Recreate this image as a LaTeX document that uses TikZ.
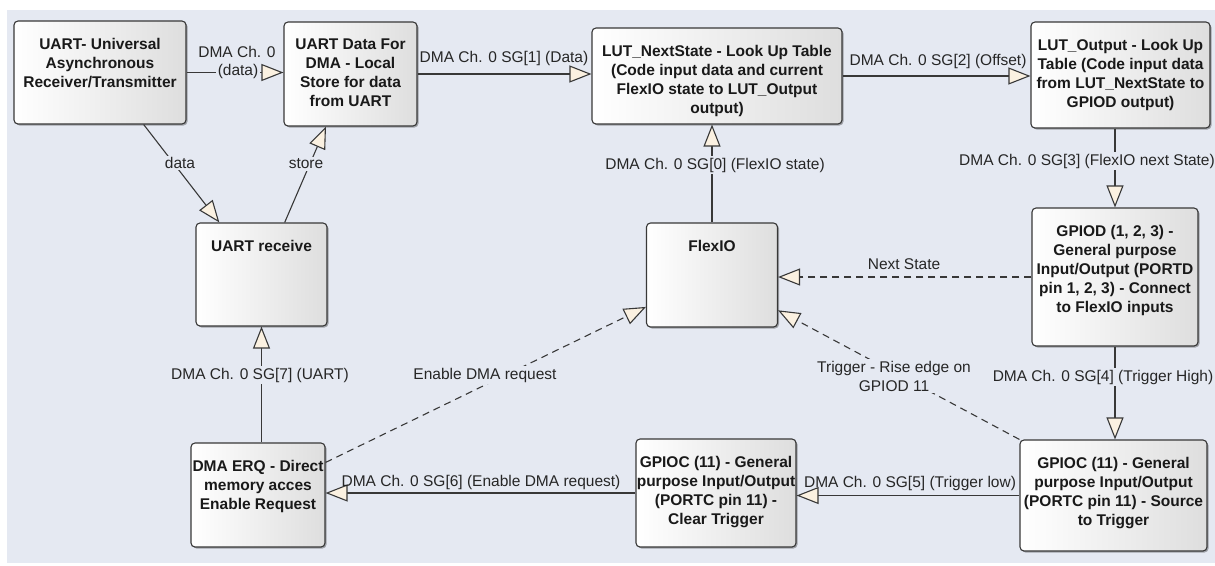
\documentclass[tikz,border=0pt]{standalone}
\usepackage{fontspec}
\setmainfont{Liberation Sans}
\usetikzlibrary{arrows.meta,shadows,calc}
\definecolor{canvas}{HTML}{E5E9F2}
\definecolor{tipfill}{HTML}{FBF1E1}
\definecolor{ink}{HTML}{383838}

\tikzset{
  block/.style={draw=ink, line width=1.1pt, rounded corners=4pt,
    left color=white, right color=black!13, inner sep=0pt,
    drop shadow={shadow xshift=1.5pt, shadow yshift=-1.5pt, opacity=0.3, fill=black}},
  blocktext/.style={font=\bfseries\fontsize{15.5}{19}\selectfont, align=center,
    inner sep=0pt, anchor=north, text=black!90},
  flow/.style={draw=ink, line width=1.1pt,
    -{Triangle[length=22pt,width=17pt,fill=tipfill]}},
  signal/.style={flow, dash pattern=on 7pt off 5pt},
  tag/.style={font=\fontsize{15.5}{19}\selectfont, fill=canvas, inner sep=1.5pt,
    align=center, text=black!85},
  plaintag/.style={tag, fill=none},
}

\begin{document}
\begin{tikzpicture}[x=1pt,y=-1pt]
% page and canvas
\fill[white] (0,0) rectangle (1215,565);
\fill[canvas] (7,10) rectangle (1215,563);
\useasboundingbox (0,0) rectangle (1215,565);

% blocks
\node[block, minimum width=172pt, minimum height=103pt] (uart)   at (100,72.5)   {};
\node[block, minimum width=133pt, minimum height=104pt] (udata)  at (350.5,74)   {};
\node[block, minimum width=250pt, minimum height=96pt]  (lutns)  at (717,76)     {};
\node[block, minimum width=179pt, minimum height=106pt] (lutout) at (1120.5,75)  {};
\node[block, minimum width=131pt, minimum height=103pt] (urecv)  at (261.5,274.5){};
\node[block, minimum width=131pt, minimum height=104pt] (flexio) at (712,275)    {};
\node[block, minimum width=166pt, minimum height=138pt] (gpiod)  at (1115,277)   {};
\node[block, minimum width=134pt, minimum height=104pt] (erq)    at (258,495)    {};
\node[block, minimum width=160pt, minimum height=108pt] (gclr)   at (716,493)    {};
\node[block, minimum width=187pt, minimum height=111pt] (gsrc)   at (1113.5,495.5){};

% block titles
\node[blocktext] (uart-t)   at ([yshift=-17.5pt]uart.north)   {UART- Universal\\Asynchronous\\Receiver/Transmitter};
\node[blocktext] (udata-t)  at ([yshift=-17.5pt]udata.north)  {UART Data For\\DMA - Local\\Store for data\\from UART};
\node[blocktext] (lutns-t)  at ([yshift=-17.5pt]lutns.north)  {LUT\_NextState - Look Up Table\\(Code input data and current\\FlexIO state to LUT\_Output\\output)};
\node[blocktext] (lutout-t) at ([yshift=-17.5pt]lutout.north) {LUT\_Output - Look Up\\Table (Code input data\\from LUT\_NextState to\\GPIOD output)};
\node[blocktext] (urecv-t)  at ([yshift=-17.5pt]urecv.north)  {UART receive};
\node[blocktext] (flexio-t) at ([yshift=-17.5pt]flexio.north) {FlexIO};
\node[blocktext] (gpiod-t)  at ([yshift=-17.5pt]gpiod.north)  {GPIOD (1, 2, 3) -\\General purpose\\Input/Output (PORTD\\pin 1, 2, 3) - Connect\\to FlexIO inputs};
\node[blocktext] (erq-t)    at ([yshift=-17.5pt]erq.north)    {DMA ERQ - Direct\\memory acces\\Enable Request};
\node[blocktext] (gclr-t)   at ([yshift=-17.5pt]gclr.north)   {GPIOC (11) - General\\purpose Input/Output\\(PORTC pin 11) -\\Clear Trigger};
\node[blocktext] (gsrc-t)   at ([yshift=-17.5pt]gsrc.north)   {GPIOC (11) - General\\purpose Input/Output\\(PORTC pin 11) - Source\\to Trigger};

% DMA chain
\draw[flow] (uart.east) -- (uart.east -| udata.west);
\node[plaintag] (l-data1) at (237,52) {DMA Ch. 0};
\node[tag] (l-data2) at (238,71.5) {(data)};

\draw[flow] (udata.east) -- (udata.east -| lutns.west);
\node[plaintag] (l-sg1) at (504,58) {DMA Ch. 0 SG[1] (Data)};

\draw[flow] (lutns.east) -- (lutns.east -| lutout.west);
\node[plaintag] (l-sg2) at (938,61) {DMA Ch. 0 SG[2] (Offset)};

\draw[flow] (gpiod.north |- lutout.south) -- (gpiod.north);
\node[tag] (l-sg3) at (1087,161) {DMA Ch. 0 SG[3] (FlexIO next State)};

\draw[flow] (gpiod.south) -- (gpiod.south |- gsrc.north);
\node[tag] (l-sg4) at (1103,377) {DMA Ch. 0 SG[4] (Trigger High)};

\draw[flow] (gsrc.west) -- (gsrc.west -| gclr.east);
\node[plaintag] (l-sg5) at (910,483) {DMA Ch. 0 SG[5] (Trigger low)};

\draw[flow] (gclr.west) -- (gclr.west -| erq.east);
\node[plaintag] (l-sg6) at (481,482) {DMA Ch. 0 SG[6] (Enable DMA request)};

\draw[flow] (urecv.south |- erq.north) -- (urecv.south);
\node[tag] (l-sg7) at (260,375) {DMA Ch. 0 SG[7] (UART)};

\draw[flow] (flexio.north) -- (flexio.north |- lutns.south);
\node[tag] (l-sg0) at (715,165) {DMA Ch. 0 SG[0] (FlexIO state)};

% UART side
\draw[flow] (uart.-50.4) -- (urecv.129.5);
\node[tag] (l-rx) at (180,163) {data};
\draw[flow] (urecv.66.4) -- (udata.245.7);
\node[tag] (l-store) at (306,164) {store};

% FlexIO signals
\draw[signal] (gpiod.west) -- (gpiod.west -| flexio.east);
\node[plaintag] (l-next) at (904,264) {Next State};
\draw[signal] (gsrc.north west) -- (flexio);
\node[tag] (l-trig) at (894,376) {Trigger - Rise edge on\\GPIOD 11};
\draw[signal] (erq) -- (flexio);
\node[tag] (l-erq) at (485,375) {Enable DMA request};
\end{tikzpicture}
\end{document}
